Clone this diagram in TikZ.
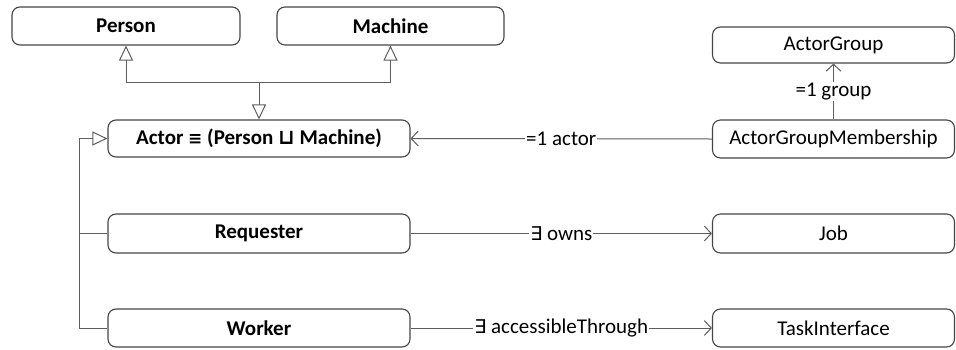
\documentclass[tikz,border=0pt]{standalone}
\usepackage{fontspec}
\setmainfont{Carlito}
\newfontfamily\symfont{DejaVu Sans}
\usetikzlibrary{arrows.meta}

\definecolor{boxline}{HTML}{454545}
\definecolor{conline}{HTML}{5E5E5E}

\newcommand{\sym}[2][17]{{\symfont\fontsize{#1}{20}\selectfont #2}}

\tikzset{
  classbox/.style={draw=boxline, line width=1.1pt, rounded corners=8pt,
    inner sep=0pt, fill=white, font=\fontsize{21}{25}\selectfont},
  boldbox/.style={classbox, font=\fontsize{21}{25}\selectfont\bfseries},
  conn/.style={draw=conline, line width=1pt},
  isa/.style={conn, -{Triangle[open, length=15pt, width=14pt, fill=white]}},
  role/.style={conn, -{Straight Barb[length=7pt, width=15pt]}},
  rolelabel/.style={fill=white, inner sep=1pt, font=\fontsize{21}{25}\selectfont}
}

\begin{document}
\begin{tikzpicture}[x=1pt, y=-1pt]
  \useasboundingbox (0,0) rectangle (956,349);

  % class boxes
  \node[boldbox, minimum width=228pt, minimum height=38pt] (person)  at (126,26)   {Person};
  \node[boldbox, minimum width=227pt, minimum height=38pt] (machine) at (390.5,26) {Machine};
  \node[boldbox, minimum width=302pt, minimum height=37pt] (actor)   at (259,138.5)
    {Actor \sym{≡} (Person \sym[21]{⊔} Machine)};
  \node[boldbox, minimum width=302pt, minimum height=39pt] (requester) at (259,233.5) {Requester};
  \node[boldbox, minimum width=302pt, minimum height=38pt] (worker)    at (259,328)   {Worker};

  \node[classbox, minimum width=242pt, minimum height=36pt] (group)  at (833.5,45)    {ActorGroup};
  \node[classbox, minimum width=242pt, minimum height=38pt] (member) at (833.5,139)   {ActorGroupMembership};
  \node[classbox, minimum width=242pt, minimum height=39pt] (job)    at (833.5,233.5) {Job};
  \node[classbox, minimum width=242pt, minimum height=38pt] (task)   at (833.5,328)   {TaskInterface};

  % Actor as union of Person and Machine
  \coordinate (jp) at (126,82);
  \coordinate (jm) at (390.5,82);
  \coordinate (ja) at (259,82);
  \draw[conn] (jp) -- (jm);
  \draw[isa] (jp) -- (person.south);
  \draw[isa] (jm) -- (machine.south);
  \draw[isa] (ja) -- (actor.north);

  % Requester and Worker specialise Actor
  \coordinate (ltop) at (79,138.5);
  \coordinate (lreq) at (79,233.5);
  \coordinate (lwrk) at (79,328);
  \draw[conn] (ltop) -- (lwrk);
  \draw[isa] (ltop) -- (actor.west);
  \draw[conn] (lreq) -- (requester.west);
  \draw[conn] (lwrk) -- (worker.west);

  % roles
  \draw[role] (member.west) -- node[rolelabel] {=1 actor} (actor.east);
  \draw[role] (member.north) -- node[rolelabel] {=1 group} (group.south);
  \draw[role] (requester.east) -- node[rolelabel] {\sym[19]{∃} owns} (job.west);
  \draw[role] (worker.east) -- node[rolelabel] {\sym[19]{∃} accessibleThrough} (task.west);
\end{tikzpicture}
\end{document}
